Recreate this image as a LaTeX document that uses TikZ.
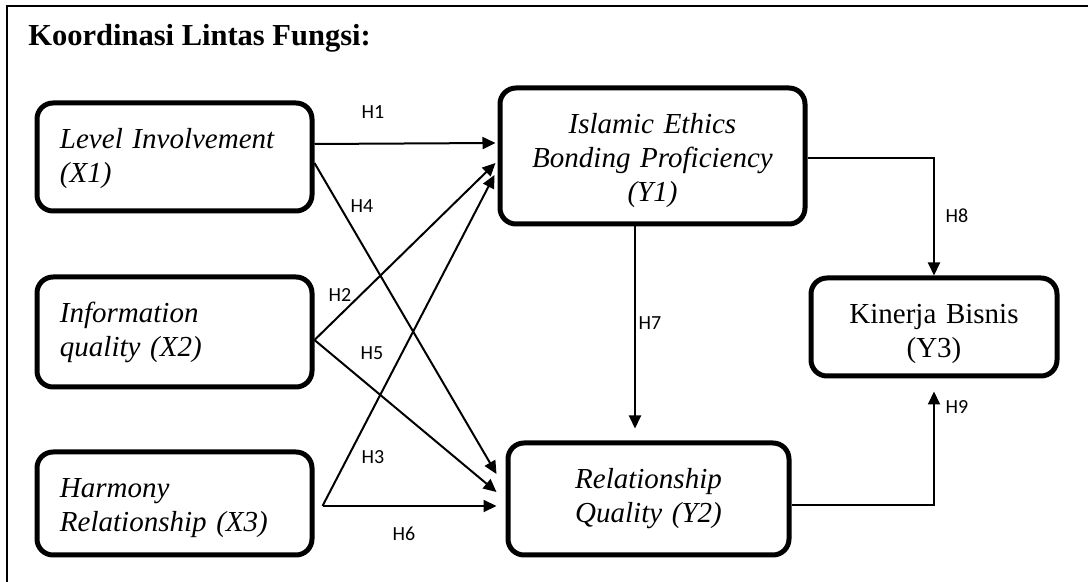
\documentclass[tikz,border=0pt]{standalone}
\usepackage{fontspec}
\setmainfont{Liberation Serif}
\newfontfamily\hfont{Carlito}
\usetikzlibrary{arrows.meta}

\begin{document}
\begin{tikzpicture}[x=0.5pt, y=-0.5pt,
	var/.style={draw, line width=2.5pt, rounded corners=8pt, inner sep=0pt, text height=23pt,
		font=\fontsize{14.5}{17}\selectfont},
	exo/.style={var, text width=114.5pt, align=left, minimum width=137.5pt},
	endo/.style={var, align=center},
	link/.style={line width=1pt, -{Triangle[length=6.5pt, width=6pt]}},
	hlabel/.style={font=\hfont\fontsize{10}{12}\selectfont, inner sep=0pt}]

\useasboundingbox (0,0) rectangle (1088,582);

% Frame and title:
\draw[line width=1pt] (1088,6) -- (7,6) -- (7,582);
\node[font=\bfseries\fontsize{15.25}{18}\selectfont, anchor=base west, inner sep=0pt] (title) at (28,46) {Koordinasi Lintas Fungsi:};

% Variables (text hangs from the top of each box):
\node[exo, text depth=31pt] (X1) at (174.5,157) {\itshape Level Involvement\\(X1)};
\node[exo, text depth=32pt] (X2) at (174.5,332) {\itshape Information\\quality (X2)};
\node[exo, text depth=28.5pt] (X3) at (174.5,503.5) {\itshape Harmony\\Relationship (X3)};
\node[endo, text width=152.5pt, text depth=45pt] (Y1) at (652.5,156) {\itshape Islamic Ethics\\\itshape Bonding Proficiency\\\itshape (Y1)};
\node[endo, text width=140.5pt, text depth=33pt] (Y2) at (648.5,499) {\itshape Relationship\\\itshape Quality (Y2)};
\node[endo, text width=123pt, text depth=26pt] (Y3) at (934,327) {Kinerja Bisnis\\(Y3)};

% Paths:
\draw[link] ([yshift=6.5pt]X1.east) -- ([xshift=-1pt, yshift=6.5pt]Y1.west);
\draw[link] ([yshift=-3pt]X1.east) -- ([xshift=-4.5pt, yshift=12.5pt]Y2.west);
\draw[link] ([yshift=-4pt]X2.east) -- ([xshift=-1pt, yshift=-3.5pt]Y1.west);
\draw[link] ([yshift=-4pt]X2.east) -- ([xshift=-4.5pt, yshift=3.5pt]Y2.west);
\draw[link] ([xshift=4pt, yshift=-1.25pt]X3.east) -- ([xshift=-1.5pt, yshift=-9.5pt]Y1.west);
\draw[link] ([xshift=4pt, yshift=-1.25pt]X3.east) -- ([xshift=-4.5pt, yshift=-3.5pt]Y2.west);
\draw[link] ([xshift=-8.75pt]Y1.south) -- ([xshift=-6.75pt, yshift=6pt]Y2.north);
\draw[link] ([yshift=-1pt]Y1.east) -| (Y3.north);
\draw[link] ([yshift=-3pt]Y2.east) -| ([yshift=-6.5pt]Y3.south);

% Hypothesis labels:
\foreach \h/\pos in {H1/{373,112}, H2/{340,295}, H3/{373,457}, H4/{362,206}, H5/{372,353},
	H6/{404,534}, H7/{650,323}, H8/{957,216}, H9/{957,407}} {
	\node[hlabel] (\h) at (\pos) {\h};
}

\end{tikzpicture}
\end{document}
